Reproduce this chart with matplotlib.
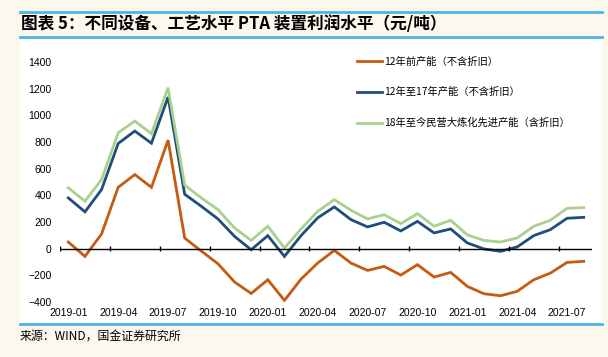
import matplotlib.pyplot as plt
from matplotlib.patches import Rectangle
from matplotlib.lines import Line2D

plt.rcParams['font.family'] = ['Noto Sans CJK SC', 'DejaVu Sans']

# 1. Data (monthly, 2019-01 .. 2021-08)
months = [f'{y}-{m:02d}' for y in (2019, 2020, 2021) for m in range(1, 13)][:32]
tick_labels = months[::3]

before_12 = [50, -58, 110, 460, 556, 460, 814, 80, -18, -113, -250, -336, -233, -388, -228, -108,
             -13, -108, -163, -133, -198, -120, -213, -178, -283, -338, -353, -320, -233, -183, -103, -95]
y12_17 = [381, 276, 443, 789, 882, 791, 1137, 408, 318, 223, 92, -8, 98, -58, 98, 231,
          313, 218, 163, 198, 133, 205, 118, 148, 43, -2, -20, 13, 98, 143, 228, 235]
since_18 = [456, 356, 518, 869, 957, 862, 1207, 477, 381, 293, 155, 62, 168, 5, 148, 280,
            368, 288, 223, 255, 188, 263, 168, 213, 103, 62, 50, 80, 168, 213, 303, 308]

series = [
    ('12年前产能（不含折旧）', before_12, '#C55A11'),
    ('12年至17年产能（不含折旧）', y12_17, '#1F4E79'),
    ('18年至今民营大炼化先进产能（含折旧）', since_18, '#A9D18E'),
]

W, H = 608, 357
fig = plt.figure(figsize=(W / 100, H / 100), dpi=100, facecolor='#FDF8EE')

# 2. Frame: white panel, title bars
fig.patches.append(Rectangle((20 / W, 1 - 324 / H), 582 / W, 286 / H,
                             transform=fig.transFigure, facecolor='white', edgecolor='none', zorder=-5))
for yy in (12, 37, 324):
    fig.add_artist(Line2D([20 / W, 602 / W], [1 - yy / H] * 2, color='#4FB3E8', lw=2))
fig.text(21 / W, 1 - 24 / H, '图表 5：不同设备、工艺水平 PTA 装置利润水平（元/吨）',
         fontsize=12, fontweight='bold', va='center', ha='left')
fig.text(20 / W, 1 - 336 / H, '来源：WIND，国金证券研究所', fontsize=8.6, va='center', ha='left')

# 3. Plot
ax = fig.add_axes([60 / W, 1 - 302 / H, 532 / W, 240 / H])
ax.set_facecolor('none')
ax.set_zorder(1)
x = list(range(len(months)))
for name, vals, color in series:
    ax.plot(x, vals, color=color, lw=2.0, label=name, solid_joinstyle='miter')

ax.set_xlim(-0.5, len(months) - 0.5)
ax.set_ylim(-400, 1400)
ax.set_yticks(range(-400, 1401, 200))
ax.set_xticks(x[::3])
ax.set_xticklabels(tick_labels)
ax.tick_params(axis='x', length=0, pad=4, labelsize=7.5)
ax.tick_params(axis='y', length=0, pad=6, labelsize=7.5)
for lab in ax.get_xticklabels() + ax.get_yticklabels():
    lab.set_family(['Liberation Sans', 'DejaVu Sans'])
for s in ax.spines.values():
    s.set_visible(False)

# category axis at zero with boundary ticks
ax.axhline(0, color='black', lw=1)
ax.vlines([i - 0.5 for i in x[::3]], -20, 20, color='black', lw=1)

ax.legend(loc='upper left', bbox_to_anchor=(0.55, 1.04), frameon=False, fontsize=7.4,
          handlelength=2.5, handletextpad=0.2, labelspacing=2.0, borderaxespad=0)

plt.savefig('out.png', dpi=100, facecolor=fig.get_facecolor())
